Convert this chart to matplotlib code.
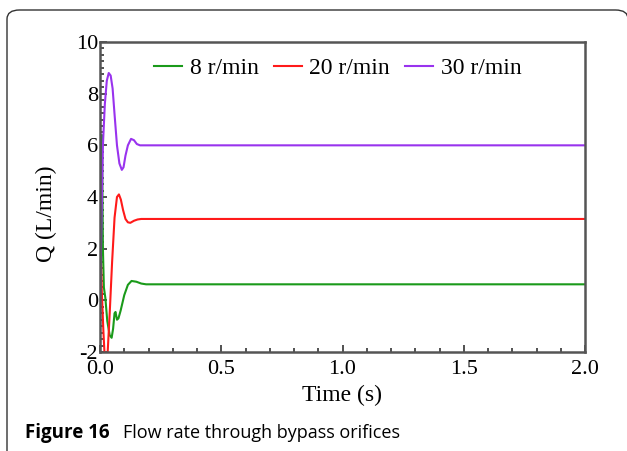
import matplotlib.pyplot as plt
from matplotlib.patches import FancyBboxPatch
from matplotlib.ticker import MultipleLocator

# time (s) and flow rate Q (L/min)
t_8 = [0.0, 0.004, 0.008, 0.012, 0.016, 0.022, 0.03, 0.04, 0.048, 0.054, 0.06, 0.064,
       0.07, 0.076, 0.085, 0.1, 0.115, 0.13, 0.15, 0.17, 0.19, 2.0]
q_8 = [0.8, 3.5, 6.4, 2.0, 0.5, 0.1, -0.8, -1.35, -1.45, -1.1, -0.5, -0.45,
       -0.75, -0.7, -0.4, 0.2, 0.6, 0.75, 0.72, 0.65, 0.62, 0.62]

t_20 = [0.0, 0.004, 0.008, 0.014, 0.02, 0.03, 0.04, 0.05, 0.06, 0.07, 0.078,
        0.086, 0.095, 0.105, 0.115, 0.125, 0.14, 0.155, 0.17, 2.0]
q_20 = [3.2, 1.5, 0.2, -1.2, -2.3, -2.3, -0.5, 1.5, 3.2, 4.0, 4.1,
        3.9, 3.5, 3.15, 3.02, 3.0, 3.08, 3.13, 3.15, 3.15]

t_30 = [0.0, 0.006, 0.012, 0.02, 0.028, 0.036, 0.044, 0.052, 0.06, 0.07, 0.08,
        0.09, 0.097, 0.105, 0.115, 0.128, 0.14, 0.152, 0.165, 0.18, 2.0]
q_30 = [-0.5, 3.0, 6.0, 7.6, 8.5, 8.8, 8.7, 8.2, 7.2, 6.0, 5.3,
        5.05, 5.15, 5.6, 6.0, 6.25, 6.2, 6.05, 6.0, 6.0, 6.0]

labels = ["8 r/min", "20 r/min", "30 r/min"]
colors = ["#1a9a1a", "#ff1a1a", "#9933ee"]

plt.rcParams['font.family'] = ['Liberation Serif', 'DejaVu Serif']

fig = plt.figure(figsize=(6.27, 4.51), dpi=100)
W, H = 627, 451

# rounded frame around the figure panel
frame = FancyBboxPatch((7 / W, -20 / H), 621 / W, 461 / H,
                       boxstyle="round,pad=0,rounding_size=0.02",
                       transform=fig.transFigure, fill=False,
                       edgecolor="#333333", linewidth=1.0)
fig.patches.append(frame)

ax = fig.add_axes([100 / W, 1 - 352 / H, 485 / W, 310 / H])
ax.plot(t_8, q_8, color=colors[0], lw=1.5, label=labels[0])
ax.plot(t_20, q_20, color=colors[1], lw=1.5, label=labels[1])
ax.plot(t_30, q_30, color=colors[2], lw=1.5, label=labels[2])

ax.set_xlim(0, 2.0)
ax.set_ylim(-2, 10)
ax.xaxis.set_major_locator(MultipleLocator(0.5))
ax.xaxis.set_minor_locator(MultipleLocator(0.1))
ax.yaxis.set_major_locator(MultipleLocator(2))
ax.yaxis.set_minor_locator(MultipleLocator(0.25))
ax.xaxis.set_major_formatter(lambda v, p: f"{v:.1f}")
ax.yaxis.set_major_formatter(lambda v, p: f"{v:.0f}")
ax.tick_params(which='both', direction='in', top=False, right=False,
               labelsize=16, color="#333333")
ax.tick_params(which='major', length=5, width=1.2)
ax.tick_params(which='minor', length=3, width=1.2)
ax.tick_params(axis='x', which='major', pad=6)
ax.tick_params(axis='y', which='major', pad=1.5)
for s in ax.spines.values():
    s.set_color("#555555")
    s.set_linewidth(1.8)

ax.set_xlabel("Time (s)", fontsize=17, labelpad=4)
ax.set_ylabel("Q (L/min)", fontsize=17)
ax.yaxis.set_label_coords(-0.088, 0.445)

ax.legend(loc='center', bbox_to_anchor=(0.49, 0.916), ncol=3, frameon=False,
          fontsize=17, handlelength=1.2, handletextpad=0.3, columnspacing=0.65,
          borderpad=0)

fig.text(25 / W, 1 - 438 / H, "Figure 16", fontsize=13.5, fontweight='bold',
         family='Open Sans', va='baseline')
fig.text(123 / W, 1 - 438 / H, "Flow rate through bypass orifices", fontsize=13,
         family='Open Sans', va='baseline')

fig.savefig("out.png", dpi=100)
